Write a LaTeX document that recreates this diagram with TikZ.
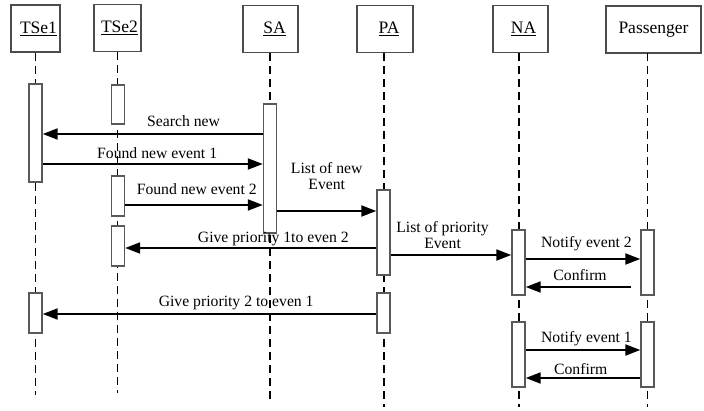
\documentclass[tikz,border=0pt]{standalone}
\usepackage{fontspec}
\setmainfont{Liberation Serif}
\usetikzlibrary{arrows.meta}
\begin{document}
\begin{tikzpicture}[x=1pt,y=-1pt,
 head/.style={draw=black!70, line width=1.6pt, fill=white, inner sep=0, minimum height=47pt, font=\fontsize{17.5}{19}\selectfont},
 act/.style={draw=black!65, line width=1.4pt, fill=white, minimum width=13pt, inner sep=0},
 life/.style={line width=1.9pt, dash pattern=on 8pt off 5pt},
 msg/.style={line width=2pt, -{Triangle[length=15pt,width=11pt]}},
 lbl/.style={font=\fontsize{15.7}{16}\selectfont, inner sep=0, align=center, anchor=base}]
\useasboundingbox (0,0) rectangle (704,411);
% headers
\node[head, minimum width=49pt] (tse1) at (35.5,28.5) {\hspace{6pt}\underline{TSe1}};
\node[head, minimum width=47pt] (tse2) at (117.5,28) {\hspace{4pt}\underline{TSe2}};
\node[head, minimum width=55pt] (sa) at (270.5,29) {\hspace{8pt}\underline{SA}};
\node[head, minimum width=56pt] (pa) at (385,29) {\hspace{8pt}\underline{PA}};
\node[head, minimum width=55pt] (na) at (520.5,29) {\hspace{6pt}\underline{NA}};
\node[head, minimum width=95pt] (pas) at (653.5,29.5) {Passenger};
\coordinate (pastop) at (647.5,53);
% lifeline ends
\coordinate (tse1end) at (35.5,395);
\coordinate (tse2end) at (117.5,393);
\coordinate (saend) at (270,400);
\coordinate (paend) at (384,407);
\coordinate (naend) at (519,407);
\coordinate (pasend) at (647.5,407);
\draw[life] (tse1.south) -- (tse1end);
\draw[life] (tse2.south) -- (tse2end);
\draw[life] (sa.south -| saend) -- (saend);
\draw[life] (pa.south -| paend) -- (paend);
\draw[life] (na.south -| naend) -- (naend);
\draw[life] (pastop) -- (pasend);
% activations
\node[act, minimum height=98pt] (t1a) at (35.5,133) {};
\node[act, minimum height=39pt] (t2a) at (118,104.5) {};
\node[act, minimum height=40pt] (t2b) at (118,196) {};
\node[act, minimum height=40pt] (t2c) at (118,246) {};
\node[act, minimum height=129pt] (sa1) at (270,168.5) {};
\node[act, minimum height=85pt] (pa1) at (383.5,232.5) {};
\node[act, minimum height=65pt] (na1) at (518.5,262.5) {};
\node[act, minimum height=65pt] (ps1) at (647.5,262.5) {};
\node[act, minimum height=40pt] (t1b) at (35.5,313) {};
\node[act, minimum height=40pt] (pa2) at (383.5,313) {};
\node[act, minimum height=65pt] (na2) at (518.5,354.5) {};
\node[act, minimum height=65pt] (ps2) at (647.5,354.5) {};
% messages
\draw[msg] (sa1.west |- 0,134) -- node[lbl, pos=0.36, yshift=7pt] {Search new} (t1a.east |- 0,134);
\draw[msg] (t1a.east |- 0,164) -- node[lbl, pos=0.52, yshift=5pt] {Found new event 1} (sa1.west |- 0,164);
\draw[msg] (t2b.east |- 0,205) -- node[lbl, pos=0.52, yshift=10pt] {Found new event 2} (sa1.west |- 0,205);
\draw[msg] (sa1.east |- 0,211) -- node[lbl, pos=0.5, yshift=21pt] {List of new\\Event} (pa1.west |- 0,211);
\draw[msg] (pa1.west |- 0,248) -- node[lbl, pos=0.41, yshift=5pt] {Give priority 1to even 2} (t2c.east |- 0,248);
\draw[msg] (pa1.east |- 0,255) -- node[lbl, pos=0.43, yshift=6pt] {List of priority\\Event} (na1.west |- 0,255);
\draw[msg] (na1.east |- 0,259) -- node[lbl, pos=0.53, yshift=11pt] {Notify event 2} (ps1.west |- 0,259);
\draw[msg] ([xshift=-9pt]ps1.west |- 0,287) -- node[lbl, pos=0.485, yshift=6pt] {Confirm} (na1.east |- 0,287);
\draw[msg] (pa2.west |- 0,314) -- node[lbl, pos=0.42, yshift=7pt] {Give priority 2 to even 1} (t1b.east |- 0,314);
\draw[msg] (na2.east |- 0,350) -- node[lbl, pos=0.53, yshift=7pt] {Notify event 1} (ps2.west |- 0,350);
\draw[msg] (ps2.west |- 0,378) -- node[lbl, pos=0.52, yshift=4pt] {Confirm} (na2.east |- 0,378);
\end{tikzpicture}
\end{document}
